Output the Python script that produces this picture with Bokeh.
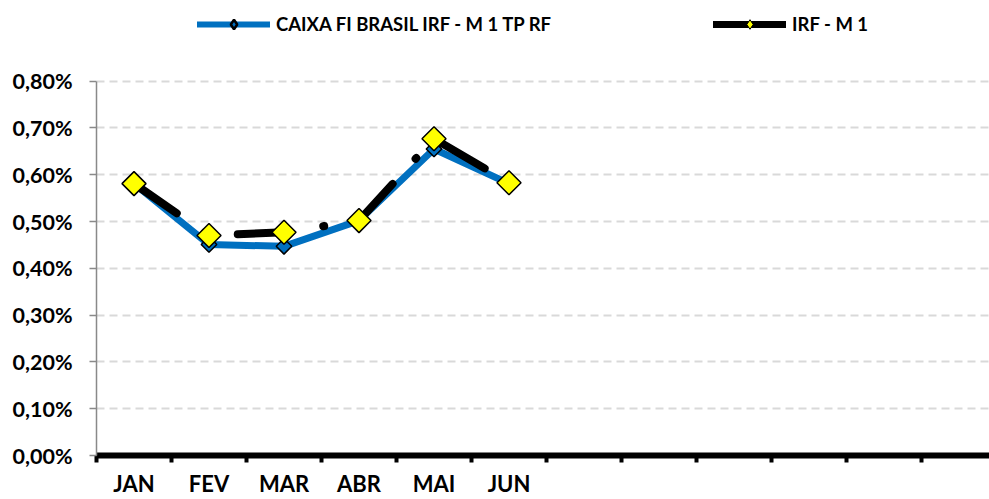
import math
from bokeh.plotting import figure
from bokeh.models import (Range1d, FixedTicker, CustomJSTickFormatter, Legend,
                          LegendItem, ColumnDataSource)
from bokeh.embed import file_html
from bokeh.resources import INLINE

# ---- data ----
months = ["JAN", "FEV", "MAR", "ABR", "MAI", "JUN"]
n_slots = 12
caixa = [0.581, 0.451, 0.447, 0.502, 0.655, 0.581]
irf_m1 = [0.581, 0.470, 0.477, 0.502, 0.677, 0.583]
series_names = ["CAIXA FI BRASIL IRF - M 1 TP RF", "IRF - M 1"]
y_ticks = [0.0, 0.1, 0.2, 0.3, 0.4, 0.5, 0.6, 0.7, 0.8]
y_tick_labels = ["0,00%", "0,10%", "0,20%", "0,30%", "0,40%",
                 "0,50%", "0,60%", "0,70%", "0,80%"]

FONT = "Lato"
BLUE = "#0070C0"

xs = [i + 0.5 for i in range(len(months))]
src = ColumnDataSource(dict(x=xs, caixa=caixa, irf=irf_m1))

# frame spans the whole top area (legend lives inside it, above the 0,80% line)
y_top = y_ticks[-1] * 457 / 376
p = figure(width=989, height=499, output_backend="svg", toolbar_location=None,
           x_range=Range1d(0, 893 / 75), y_range=Range1d(0, y_top),
           min_border_left=96, min_border_right=0, min_border_top=0,
           min_border_bottom=42)
p.outline_line_color = None
p.background_fill_color = "white"
p.border_fill_color = "white"

# grid
p.xgrid.visible = False
p.ygrid.ticker = FixedTicker(ticks=y_ticks)
p.ygrid.grid_line_color = "#D9D9D9"
p.ygrid.grid_line_width = 2
p.ygrid.grid_line_dash = "8 5"

# y axis
ya = p.yaxis[0]
ya.bounds = (y_ticks[0], y_ticks[-1])
ya.ticker = FixedTicker(ticks=y_ticks)
ya.formatter = CustomJSTickFormatter(args=dict(yt=y_ticks, yl=y_tick_labels), code="""
let best = 0, d = 1e9;
for (let i = 0; i < yt.length; i++) {
  const dd = Math.abs(yt[i] - tick);
  if (dd < d) { d = dd; best = i; }
}
return yl[best];
""")
ya.axis_line_color = "#898989"
ya.axis_line_width = 1.5
ya.major_tick_line_color = "#898989"
ya.major_tick_line_width = 1.5
ya.major_tick_out = 7
ya.major_tick_in = 0
ya.minor_tick_line_color = None
ya.major_label_standoff = 17
ya.major_label_text_font = FONT
ya.major_label_text_font_style = "bold"
ya.major_label_text_font_size = "21.5px"
ya.major_label_text_color = "black"

# x axis
xa = p.xaxis[0]
xa.ticker = FixedTicker(ticks=xs, minor_ticks=list(range(n_slots)))
xa.formatter = CustomJSTickFormatter(args=dict(mlab=months), code="""
const i = Math.floor(tick);
return (i >= 0 && i < mlab.length) ? mlab[i] : "";
""")
xa.axis_line_color = "black"
xa.axis_line_width = 6
xa.major_tick_line_color = None
xa.major_tick_out = 0
xa.major_tick_in = 0
xa.minor_tick_line_color = "black"
xa.minor_tick_line_width = 4
xa.minor_tick_out = 7
xa.minor_tick_in = 0
xa.major_label_standoff = 7
xa.major_label_text_font = FONT
xa.major_label_text_font_style = "bold"
xa.major_label_text_font_size = "22px"
xa.major_label_text_color = "black"

# series
p.line("x", "caixa", source=src, line_color=BLUE, line_width=7, line_join="round",
       line_cap="round")
p.scatter("x", "caixa", source=src, marker="square", angle=math.pi / 4, size=11,
          fill_color=BLUE, line_color="black", line_width=1.5)
p.line("x", "irf", source=src, line_color="black", line_width=8, line_cap="round",
       line_join="round", line_dash="52 34 1 33")
p.scatter("x", "irf", source=src, marker="square", angle=math.pi / 4, size=17,
          fill_color="#FFFF00", line_color="black", line_width=1.5)

# legend proxies (a single undefined point, so nothing is drawn in the plot)
proxy = ColumnDataSource(dict(x=[float("nan")], y=[float("nan")]))
l1 = p.line("x", "y", source=proxy, line_color=BLUE, line_width=6, line_cap="round")
m1 = p.scatter("x", "y", source=proxy, marker="diamond",
               fill_color=BLUE, line_color="black", line_width=2.5)
l2 = p.line("x", "y", source=proxy, line_color="black", line_width=7, line_cap="round")
m2 = p.scatter("x", "y", source=proxy, marker="diamond",
               fill_color="#FFFF00", line_color="black", line_width=1)

legend = Legend(items=[LegendItem(label=series_names[0], renderers=[l1, m1]),
                       LegendItem(label=series_names[1], renderers=[l2, m2])],
                orientation="horizontal", location=(101, 419),
                glyph_width=73, glyph_height=24, label_standoff=6, spacing=162,
                padding=0, margin=0, border_line_alpha=0, background_fill_alpha=0,
                label_text_font=FONT, label_text_font_style="bold",
                label_text_font_size="18.5px", label_text_color="black")
p.add_layout(legend, "center")

open("out.html", "w").write(file_html(p, INLINE))
